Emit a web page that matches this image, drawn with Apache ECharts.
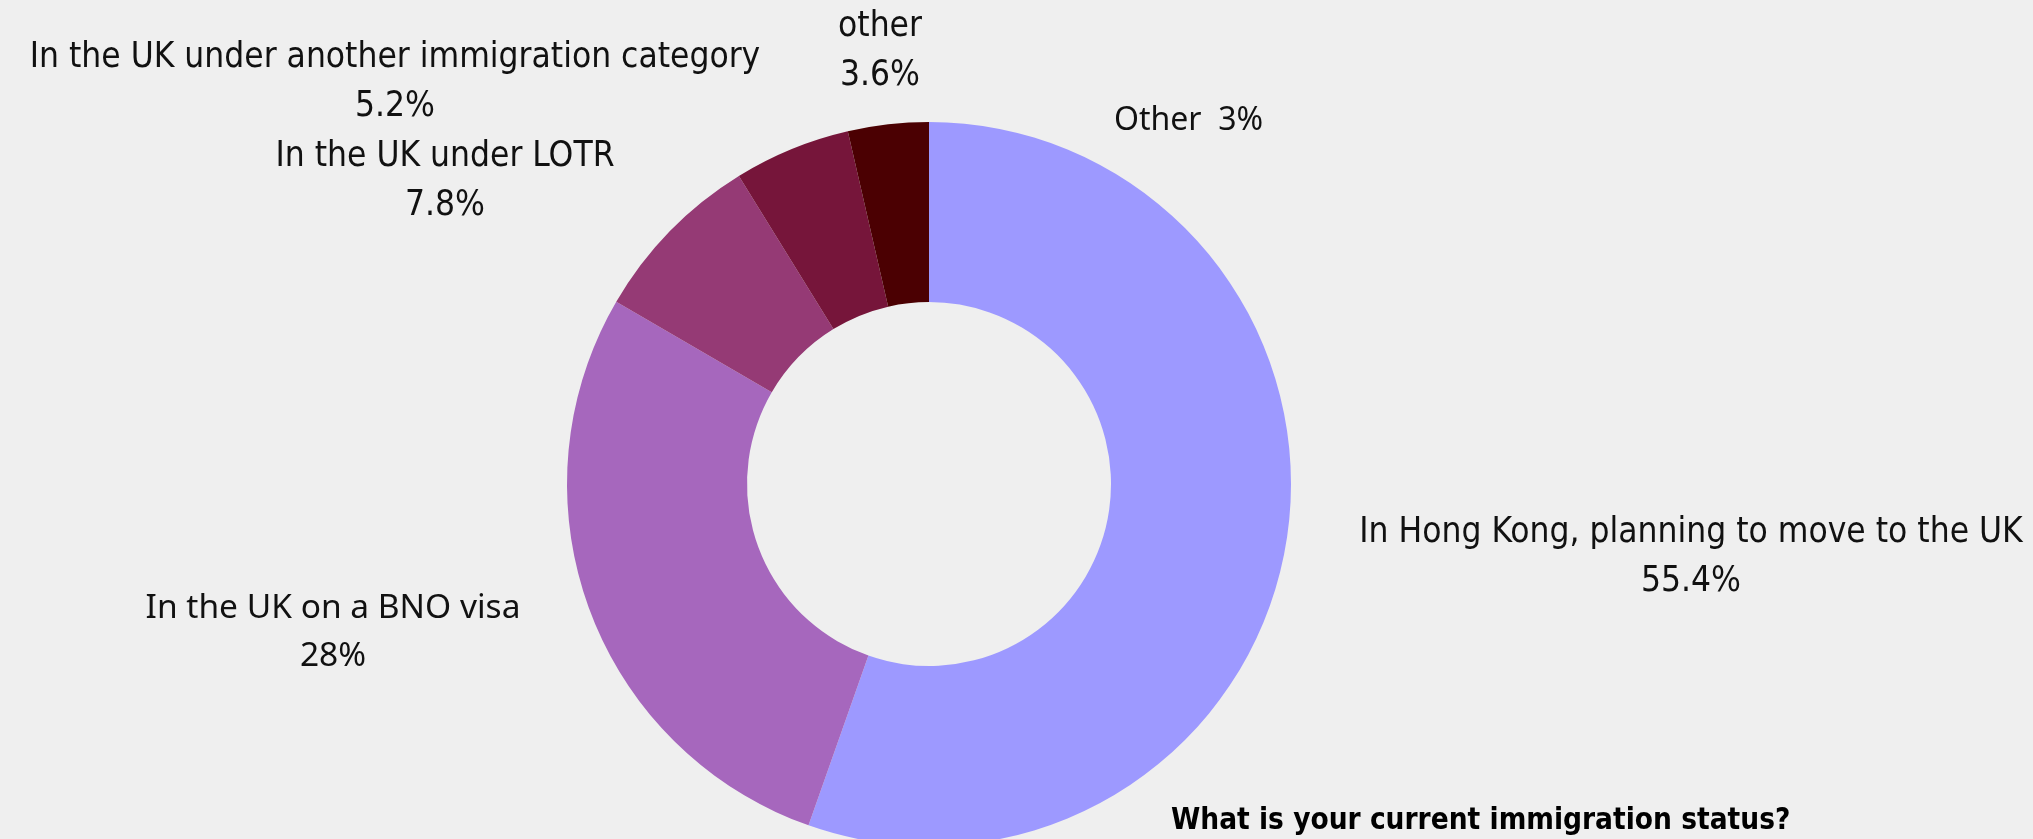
<!DOCTYPE html>
<html><head><meta charset="utf-8">
<script src="https://cdn.jsdelivr.net/npm/echarts@6/dist/echarts.min.js"></script>
<style>html,body{margin:0;padding:0;background:#efefef}#c{width:2033px;height:839px}</style>
</head><body><div id="c"></div>
<script>
const categories = ['In Hong Kong, planning to move to the UK','In the UK on a BNO visa','In the UK under LOTR','In the UK under another immigration category','other'];
const values = [55.4, 28, 7.8, 5.2, 3.6];
const colors = ['#9d99ff','#a667bd','#953a75','#76153a','#4b0002'];
const title = 'What is your current immigration status?';
const noteText = 'Other  3%';

const condensed = '"Liberation Sans Narrow","DejaVu Sans Condensed",sans-serif';
const regular = '"Noto Sans",Roboto,sans-serif';
// label anchor centers (layout)
const labelPos = [[1691,557],[333,632],[445,181],[395,82],[880,51]];

const chart = echarts.init(document.getElementById('c'));
chart.setOption({
  backgroundColor:'#efefef',
  animation:false,
  graphic:[
    {type:'text', left:1114, top:105, style:{text:noteText, font:'32px '+regular, fill:'#111'}},
    {type:'text', left:1171, top:806, style:{text:title, font:'bold 29.5px '+condensed, fill:'#000'}}
  ],
  series:[{
    type:'pie',
    center:[929,484],
    radius:[182,362],
    startAngle:90,
    clockwise:true,
    avoidLabelOverlap:false,
    labelLine:{show:false},
    label:{
      show:true,
      position:'outside',
      formatter:'{b}\n{c}%',
      fontFamily:condensed,
      fontSize:35,
      lineHeight:49,
      color:'#111',
      align:'center'
    },
    labelLayout:function(p){
      const pt = labelPos[p.dataIndex];
      return {x:pt[0], y:pt[1], align:'center', verticalAlign:'middle'};
    },
    data:categories.map((n,i)=>({
      name:n, value:values[i], itemStyle:{color:colors[i]},
      label: i===1 ? {fontFamily:regular, fontSize:33.5, lineHeight:48} : undefined
    }))
  }]
});
</script></body></html>
